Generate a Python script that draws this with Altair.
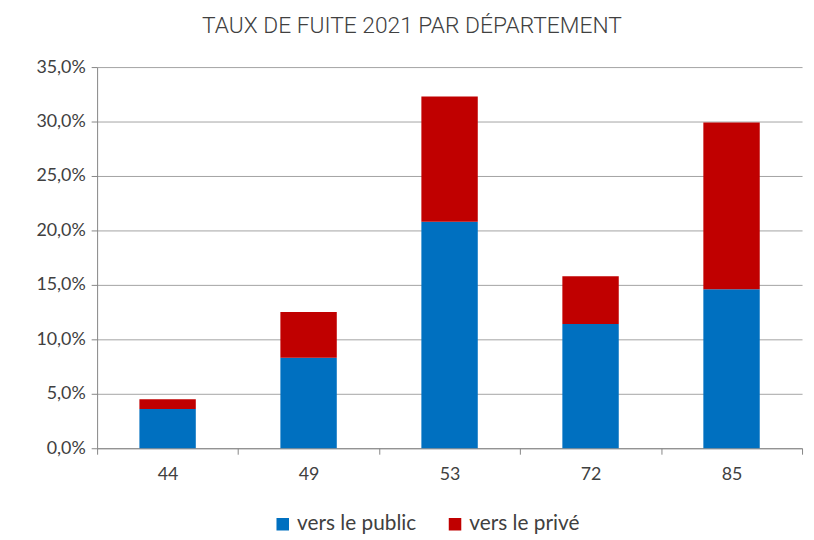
import altair as alt
import pandas as pd

departements = ["44", "49", "53", "72", "85"]
vers_public = [0.036, 0.083, 0.208, 0.114, 0.146]
vers_prive = [0.009, 0.042, 0.115, 0.044, 0.153]
series = ["vers le public", "vers le privé"]
colors = ["#0070C0", "#C00000"]

rows = []
for d, pub, pri in zip(departements, vers_public, vers_prive):
    rows.append({"dep": d, "serie": series[0], "val": pub, "ord": 0})
    rows.append({"dep": d, "serie": series[1], "val": pri, "ord": 1})
df = pd.DataFrame(rows)

chart = alt.Chart(df).mark_bar(width={"band": 0.4}).encode(
    x=alt.X("dep:N", title=None, sort=departements,
            scale=alt.Scale(paddingInner=0, paddingOuter=0),
            axis=alt.Axis(labelAngle=0, labelFont="Lato", labelFontSize=18,
                          labelColor="#404040", labelPadding=12,
                          tickBand="extent", tickSize=6, tickColor="#868686",
                          domainColor="#868686", grid=False)),
    y=alt.Y("val:Q", title=None, stack="zero",
            scale=alt.Scale(domain=[0, 0.35], nice=False),
            axis=alt.Axis(values=[0, 0.05, 0.1, 0.15, 0.2, 0.25, 0.3, 0.35],
                          labelExpr="replace(format(datum.value, '.1%'), '.', ',')",
                          labelFont="Lato", labelFontSize=18, labelColor="#404040",
                          labelPadding=6, tickSize=6, tickColor="#868686",
                          domainColor="#868686", gridColor="#8c8c8c",
                          gridOpacity=0.8)),
    color=alt.Color("serie:N", sort=series,
                    scale=alt.Scale(domain=series, range=colors),
                    legend=alt.Legend(title=None, orient="none", direction="horizontal",
                                      legendX=177, legendY=451, symbolType="square",
                                      symbolSize=160, symbolStrokeWidth=0,
                                      labelFont="Lato", labelFontSize=21,
                                      labelColor="#404040", columnPadding=28)),
    order=alt.Order("ord:Q"),
).properties(
    width=712, height=385,
    padding={"left": 90, "top": 57, "right": 4, "bottom": 90},
    autosize=alt.AutoSizeParams(type="none"),
    title=alt.TitleParams("TAUX DE FUITE 2021 PAR DÉPARTEMENT", font="Roboto",
                          fontWeight=300, fontSize=23, color="#404040",
                          anchor="middle", offset=20, dx=-38),
).configure_view(stroke=None)

chart.save("out.html", embed_options={"renderer": "svg", "actions": False})
